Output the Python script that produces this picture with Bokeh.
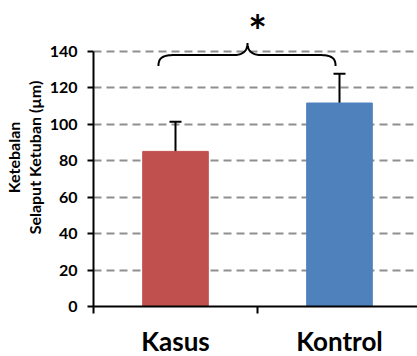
import numpy as np
from bokeh.plotting import figure
from bokeh.models import (ColumnDataSource, FixedTicker, Whisker, TeeHead, Range1d, LinearAxis)
from bokeh.core.properties import value
from bokeh.embed import file_html
from bokeh.resources import INLINE

# ---- data ----
categories = ["Kasus", "Kontrol"]
means = [85, 111.5]
upper = [101.3, 127.6]
lower = [69.3, 96.2]
bar_colors = ["#C0504D", "#4F81BD"]
y_ticks = [0, 20, 40, 60, 80, 100, 120, 140]
y_title = "Ketebalan\nSelaput Ketuban (µm)"
signif = "*"

xpos = [i + 0.5 for i in range(len(categories))]

FONT = "Lato"

p = figure(frame_width=325, frame_height=298,
           x_range=Range1d(0, 325 / 164), y_range=Range1d(0, 298 / 1.825),
           output_backend="svg", toolbar_location=None,
           min_border_left=92, min_border_right=0, min_border_top=8, min_border_bottom=50)
p.outline_line_color = None
p.background_fill_color = "white"

src = ColumnDataSource(dict(x=xpos, top=means, upper=upper, lower=lower, color=bar_colors))
p.vbar(x="x", top="top", width=0.40, color="color", source=src)

w = Whisker(base="x", upper="upper", lower="lower", source=src,
            line_color="black", line_width=2,
            upper_head=TeeHead(size=12, line_width=2, line_color="black"),
            lower_head=TeeHead(size=12, line_width=2, line_color="black"))
p.add_layout(w)

# y axis
p.yaxis.ticker = FixedTicker(ticks=y_ticks, minor_ticks=[])
p.yaxis.bounds = (0, 140)
p.yaxis.axis_line_width = 2
p.yaxis.axis_line_color = "black"
p.yaxis.major_tick_out = 6
p.yaxis.major_tick_in = 0
p.yaxis.major_tick_line_width = 2
p.yaxis.major_label_standoff = 10
p.yaxis.major_label_text_font = FONT
p.yaxis.major_label_text_font_style = "bold"
p.yaxis.major_label_text_font_size = "16px"
p.yaxis.major_label_text_color = "black"

# y title on a bare helper axis (so it can be centred higher than the main axis)
title_axis = LinearAxis(bounds=(55, 140), ticker=FixedTicker(ticks=[]),
                        axis_line_color=None, major_tick_line_color=None,
                        minor_tick_line_color=None, major_label_text_font_size="0px",
                        axis_label=y_title, axis_label_standoff=3,
                        axis_label_text_font=FONT, axis_label_text_font_style="bold",
                        axis_label_text_font_size="16px", axis_label_text_color="black",
                        axis_label_text_align="center", axis_label_text_line_height=1.1)
p.add_layout(title_axis, "left")

# x axis
p.xaxis.ticker = FixedTicker(ticks=xpos, minor_ticks=[0, 1, 2])
p.xaxis.major_label_overrides = {xp: c for xp, c in zip(xpos, categories)}
p.xaxis.major_tick_line_color = None
p.xaxis.minor_tick_out = 7
p.xaxis.minor_tick_in = 0
p.xaxis.minor_tick_line_width = 2
p.xaxis.minor_tick_line_color = "black"
p.xaxis.axis_line_width = 2
p.xaxis.axis_line_color = "black"
p.xaxis.major_label_standoff = 11
p.xaxis.major_label_text_font = FONT
p.xaxis.major_label_text_font_style = "bold"
p.xaxis.major_label_text_font_size = "26px"
p.xaxis.major_label_text_color = "black"

# grid
p.xgrid.grid_line_color = None
p.ygrid.ticker = FixedTicker(ticks=y_ticks[1:])
p.ygrid.grid_line_color = "#8f8f8f"
p.ygrid.grid_line_width = 2
p.ygrid.grid_line_dash = "8 5"

# significance brace
def bez(p0, c0, c1, p1, n=20):
    t = np.linspace(0, 1, n)[:, None]
    P = ((1 - t) ** 3) * np.array(p0) + 3 * ((1 - t) ** 2) * t * np.array(c0) \
        + 3 * (1 - t) * t ** 2 * np.array(c1) + t ** 3 * np.array(p1)
    return P

yb, ym, yt = 131.8, 137.8, 144.4
xl, xc, xr = 0.396, 0.939, 1.476
segs = [
    bez((xl, yb), (xl, ym - 0.5), (xl + 0.04, ym), (xl + 0.12, ym)),
    bez((xl + 0.12, ym), (xl + 0.25, ym), (xc - 0.18, ym), (xc - 0.085, ym)),
    bez((xc - 0.085, ym), (xc - 0.03, ym), (xc, ym + 2), (xc, yt)),
    bez((xc, yt), (xc, ym + 2), (xc + 0.03, ym), (xc + 0.085, ym)),
    bez((xc + 0.085, ym), (xc + 0.2, ym), (xr - 0.25, ym), (xr - 0.12, ym)),
    bez((xr - 0.12, ym), (xr - 0.04, ym), (xr, ym - 0.5), (xr, yb)),
]
path = np.vstack(segs)
p.line(path[:, 0], path[:, 1], line_color="black", line_width=2)

p.text(x=[1.0], y=[151.5], text=[signif], text_align="center", text_baseline="alphabetic",
       text_font=value(FONT), text_font_style="bold", text_font_size="44px", text_color="black")

open("out.html", "w").write(file_html(p, INLINE))
